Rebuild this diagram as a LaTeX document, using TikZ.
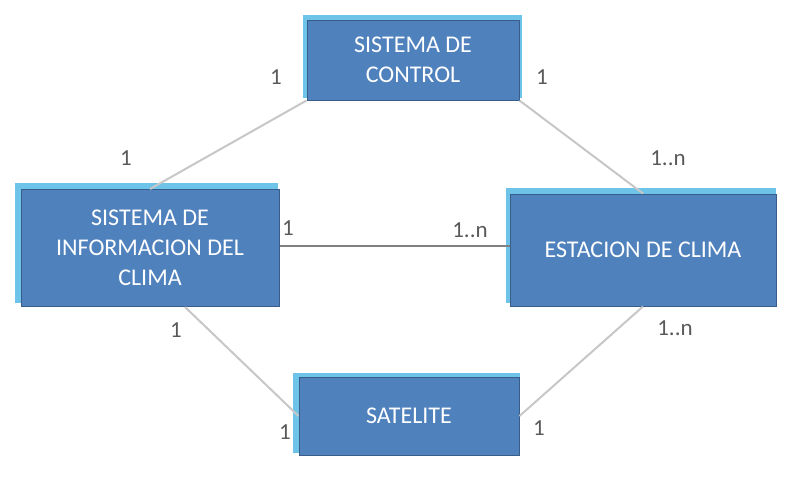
\documentclass[tikz,border=0pt]{standalone}
\usepackage{fontspec}
\setmainfont{Carlito}
\usetikzlibrary{positioning}
\definecolor{boxfill}{HTML}{4F81BD}
\definecolor{boxline}{HTML}{385D8A}
\definecolor{glow}{HTML}{6EC3E8}
\definecolor{linkgray}{gray}{0.78}
\definecolor{labgray}{gray}{0.35}
\begin{document}
\begin{tikzpicture}[x=1pt,y=-1pt]
\tikzset{
  entity/.style={draw=boxline, fill=boxfill, line width=1pt, text=white,
    font=\fontsize{24}{30}\selectfont, align=center, inner sep=0pt},
  link/.style={draw=linkgray, line width=2pt},
  mult/.style={text=labgray, font=\fontsize{23}{26}\selectfont, inner sep=0pt}
}
\useasboundingbox (0,0) rectangle (800,480);

% light outlines
\fill[glow] (303,15) rectangle (522,98);
\fill[glow] (15,183) rectangle (278,303);
\fill[glow] (506,188) rectangle (776,303);
\fill[glow] (293,373) rectangle (520,453);

% boxes
\node[entity, minimum width=212pt, minimum height=80pt] (control) at (413,60) {SISTEMA DE\\CONTROL};
\node[entity, minimum width=258pt, minimum height=117pt] (info) at (150,248) {SISTEMA DE\\INFORMACION DEL\\CLIMA};
\node[entity, minimum width=266pt, minimum height=112pt] (estacion) at (643,250) {ESTACION DE CLIMA};
\node[entity, minimum width=220pt, minimum height=78pt] (satelite) at (409,416) {SATELITE};

% links
\draw[link] (control.south west) -- (info.north);
\draw[link] (control.south east) -- (estacion.north);
\draw[link, draw=gray] (info.east |- 0,246) -- (estacion.west |- 0,246);
\draw[link] (info.south) ++(35,0) coordinate (is) (is) -- (satelite.west);
\draw[link] (estacion.south) coordinate (es) (es) -- (satelite.east);

% multiplicities
\node[mult] (m1) at (276,77) {1};
\node[mult] (m2) at (542,77) {1};
\node[mult] (m3) at (126,158) {1};
\node[mult] (m4) at (668,158) {1..n};
\node[mult] (m5) at (288,228) {1};
\node[mult] (m6) at (470,230) {1..n};
\node[mult] (m7) at (176,330) {1};
\node[mult] (m8) at (675,328) {1..n};
\node[mult] (m9) at (285,432) {1};
\node[mult] (m10) at (539,428) {1};
\end{tikzpicture}
\end{document}
